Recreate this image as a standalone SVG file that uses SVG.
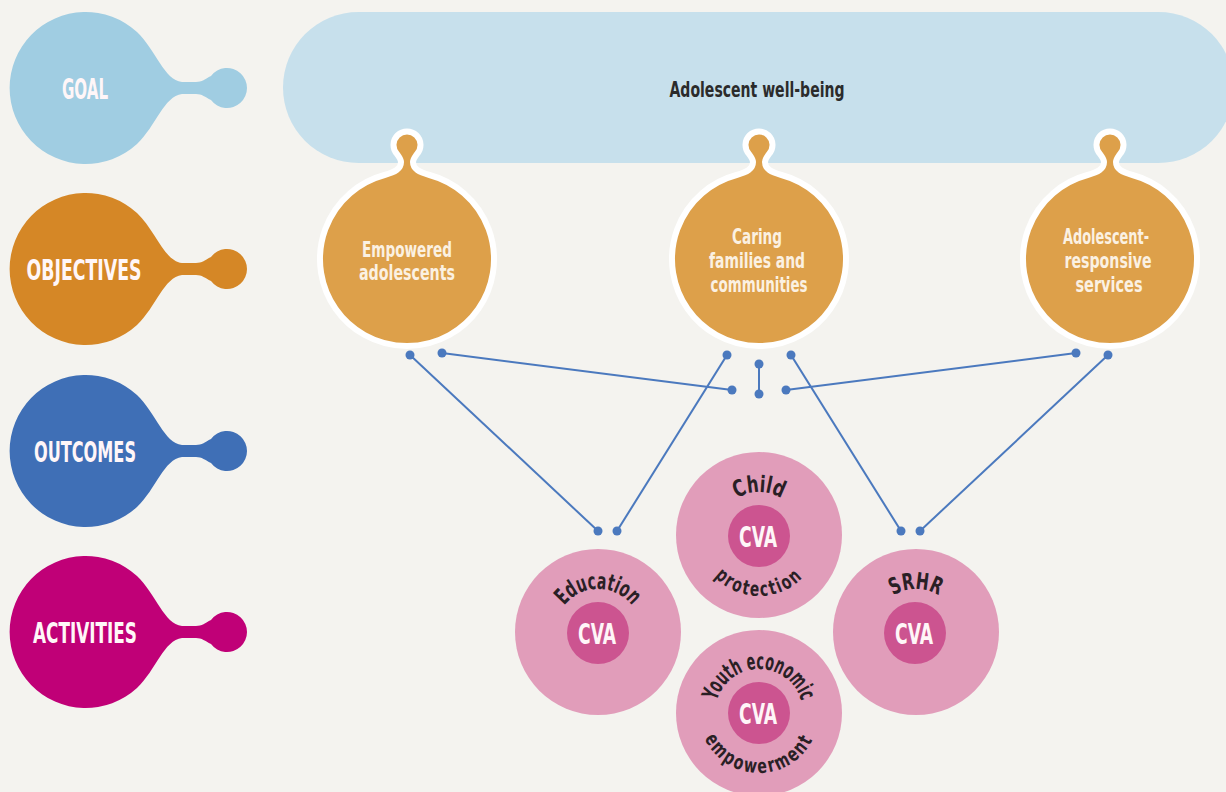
<svg xmlns="http://www.w3.org/2000/svg" width="1226" height="792" viewBox="0 0 1226 792">
<defs>
<style>
.lbl{font-family:"Liberation Sans Narrow","DejaVu Sans Condensed","Liberation Sans",sans-serif;font-weight:700;font-size:29px;fill:#FFF6F8;text-anchor:middle}
.obj{font-family:"Liberation Sans Narrow","DejaVu Sans Condensed","Liberation Sans",sans-serif;font-weight:700;font-size:21px;fill:#FBF1E2;text-anchor:middle}
.goal{font-family:"Liberation Sans Narrow","DejaVu Sans Condensed","Liberation Sans",sans-serif;font-weight:700;font-size:22px;fill:#2B2B2B;text-anchor:middle}
.cva{font-family:"Liberation Sans Narrow","DejaVu Sans Condensed","Liberation Sans",sans-serif;font-weight:700;font-size:29px;fill:#FFF6F8;text-anchor:middle}
.arc{font-family:"Liberation Sans Narrow","DejaVu Sans Condensed","Liberation Sans",sans-serif;font-weight:700;font-size:23px;fill:#2A1F25;text-anchor:middle}
.arcb{font-family:"Liberation Sans Narrow","DejaVu Sans Condensed","Liberation Sans",sans-serif;font-weight:700;font-size:20px;letter-spacing:2.5px;fill:#2A1F25;text-anchor:middle}
.objshape{fill:#DDA04A;stroke:#FFFFFF;stroke-width:6;stroke-linejoin:round}
.pink{fill:#E19DBA}
.inner{fill:#CC5490}
.con line{stroke:#4B79BE;stroke-width:2}
.con circle{fill:#4B79BE}
</style>
<path id="blob" d="M 137,-56 C 156,-38 164,-8 182,-6 L 196,-6 C 202,-6 205,-9 211,-12 A 20 20 0 1 1 211,12 C 205,9 202,6 196,6 L 182,6 C 164,8 156,38 137,56 A 76 76 0 1 1 137,-56 Z"/>
<path id="objblob" d="M -22.5,-84 C -12,-87 -6,-90 -6,-97 C -6,-100 -8,-102 -10,-105 A 13.5 13.5 0 1 1 10,-105 C 8,-102 6,-100 6,-97 C 6,-90 12,-87 22.5,-84 A 87 87 0 1 1 -22.5,-84 Z"/>
<path id="topEdu" d="M 598,675 A 43 43 0 1 1 598,589 A 43 43 0 1 1 598,675"/>
<path id="topChild" d="M 759,578 A 43 43 0 1 1 759,492 A 43 43 0 1 1 759,578"/>
<path id="botChild" d="M 759,474 A 61 61 0 1 0 759,596 A 61 61 0 1 0 759,474"/>
<path id="topYouth" d="M 759,757 A 44 44 0 1 1 759,669 A 44 44 0 1 1 759,757"/>
<path id="botYouth" d="M 759,653 A 60 60 0 1 0 759,773 A 60 60 0 1 0 759,653"/>
<path id="topSrhr" d="M 916,675 A 43 43 0 1 1 916,589 A 43 43 0 1 1 916,675"/>
</defs>
<rect width="1226" height="792" fill="#F4F3EF"/>

<g id="label-goal">
<use href="#blob" transform="translate(0,88)" fill="#A0CDE2"/>
<text class="lbl" x="85" y="99" textLength="46" lengthAdjust="spacingAndGlyphs">GOAL</text>
</g>
<g id="label-objectives">
<use href="#blob" transform="translate(0,269)" fill="#D58726"/>
<text class="lbl" x="84" y="280" textLength="115" lengthAdjust="spacingAndGlyphs">OBJECTIVES</text>
</g>
<g id="label-outcomes">
<use href="#blob" transform="translate(0,451)" fill="#3F6FB6"/>
<text class="lbl" x="85" y="462" textLength="102" lengthAdjust="spacingAndGlyphs">OUTCOMES</text>
</g>
<g id="label-activities">
<use href="#blob" transform="translate(0,632)" fill="#C00077"/>
<text class="lbl" x="85" y="643" textLength="104" lengthAdjust="spacingAndGlyphs">ACTIVITIES</text>
</g>

<g id="goal">
<rect x="283" y="12" width="951" height="151" rx="75.5" fill="#C7E0EC"/>
<text class="goal" x="757" y="97" textLength="175" lengthAdjust="spacingAndGlyphs">Adolescent well-being</text>
</g>

<g id="obj-empowered">
<use href="#objblob" class="objshape" transform="translate(407,259)"/>
<text class="obj" x="407" y="257" textLength="90" lengthAdjust="spacingAndGlyphs">Empowered</text>
<text class="obj" x="407" y="280" textLength="96" lengthAdjust="spacingAndGlyphs">adolescents</text>
</g>
<g id="obj-caring">
<use href="#objblob" class="objshape" transform="translate(759,259)"/>
<text class="obj" x="757" y="244" textLength="50" lengthAdjust="spacingAndGlyphs">Caring</text>
<text class="obj" x="757" y="268" textLength="96" lengthAdjust="spacingAndGlyphs">families and</text>
<text class="obj" x="759" y="292" textLength="97" lengthAdjust="spacingAndGlyphs">communities</text>
</g>
<g id="obj-services">
<use href="#objblob" class="objshape" transform="translate(1110,259)"/>
<text class="obj" x="1106" y="244" textLength="86" lengthAdjust="spacingAndGlyphs">Adolescent-</text>
<text class="obj" x="1108" y="268" textLength="87" lengthAdjust="spacingAndGlyphs">responsive</text>
<text class="obj" x="1109" y="292" textLength="67" lengthAdjust="spacingAndGlyphs">services</text>
</g>

<g id="connectors" class="con">
<line x1="410" y1="355" x2="598" y2="531"/>
<line x1="442" y1="353" x2="732" y2="390"/>
<line x1="727" y1="355" x2="617" y2="531"/>
<line x1="759" y1="364" x2="759" y2="394"/>
<line x1="791" y1="355" x2="901" y2="531"/>
<line x1="786" y1="390" x2="1076" y2="353"/>
<line x1="1108" y1="355" x2="920" y2="531"/>
<circle cx="410" cy="355" r="4.5"/><circle cx="598" cy="531" r="4.5"/>
<circle cx="442" cy="353" r="4.5"/><circle cx="732" cy="390" r="4.5"/>
<circle cx="727" cy="355" r="4.5"/><circle cx="617" cy="531" r="4.5"/>
<circle cx="759" cy="364" r="4.5"/><circle cx="759" cy="394" r="4.5"/>
<circle cx="791" cy="355" r="4.5"/><circle cx="901" cy="531" r="4.5"/>
<circle cx="786" cy="390" r="4.5"/><circle cx="1076" cy="353" r="4.5"/>
<circle cx="1108" cy="355" r="4.5"/><circle cx="920" cy="531" r="4.5"/>
</g>

<g id="act-education">
<circle class="pink" cx="598" cy="632" r="83"/>
<circle class="inner" cx="598" cy="633" r="31"/>
<text class="cva" x="597" y="644" textLength="38" lengthAdjust="spacingAndGlyphs">CVA</text>
<text class="arc"><textPath href="#topEdu" startOffset="50%" textLength="78" lengthAdjust="spacingAndGlyphs">Education</textPath></text>
</g>
<g id="act-child">
<circle class="pink" cx="759" cy="535" r="83"/>
<circle class="inner" cx="759" cy="536" r="31"/>
<text class="cva" x="758" y="547" textLength="38" lengthAdjust="spacingAndGlyphs">CVA</text>
<text class="arc"><textPath href="#topChild" startOffset="50%" textLength="47" lengthAdjust="spacingAndGlyphs">Child</textPath></text>
<text class="arcb"><textPath href="#botChild" startOffset="50%" textLength="100" lengthAdjust="spacingAndGlyphs">protection</textPath></text>
</g>
<g id="act-youth">
<circle class="pink" cx="759" cy="713" r="83"/>
<circle class="inner" cx="759" cy="713" r="31"/>
<text class="cva" x="758" y="724" textLength="38" lengthAdjust="spacingAndGlyphs">CVA</text>
<text class="arc"><textPath href="#topYouth" startOffset="50%" textLength="114" lengthAdjust="spacingAndGlyphs">Youth economic</textPath></text>
<text class="arcb"><textPath href="#botYouth" startOffset="50%" textLength="136" lengthAdjust="spacingAndGlyphs">empowerment</textPath></text>
</g>
<g id="act-srhr">
<circle class="pink" cx="916" cy="632" r="83"/>
<circle class="inner" cx="915" cy="633" r="31"/>
<text class="cva" x="914" y="644" textLength="38" lengthAdjust="spacingAndGlyphs">CVA</text>
<text class="arc"><textPath href="#topSrhr" startOffset="50%" textLength="48" lengthAdjust="spacingAndGlyphs">SRHR</textPath></text>
</g>
</svg>
